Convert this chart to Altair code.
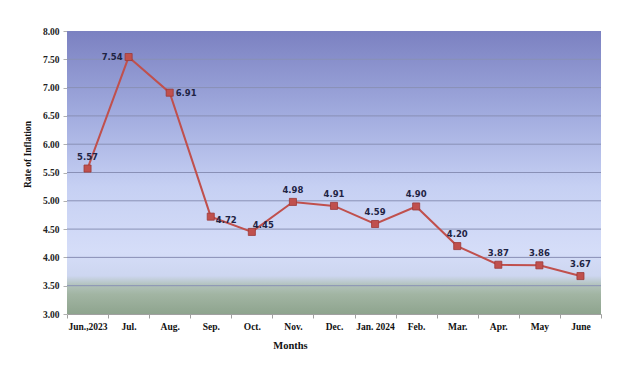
import altair as alt
import pandas as pd

months = ["Jun.,2023", "Jul.", "Aug.", "Sep.", "Oct.", "Nov.", "Dec.",
          "Jan. 2024", "Feb.", "Mar.", "Apr.", "May", "June"]
rates = [5.57, 7.54, 6.91, 4.72, 4.45, 4.98, 4.91, 4.59, 4.90, 4.20, 3.87, 3.86, 3.67]
y_ticks = [3.0, 3.5, 4.0, 4.5, 5.0, 5.5, 6.0, 6.5, 7.0, 7.5, 8.0]

df = pd.DataFrame({"month": months, "rate": rates})
df["label"] = [f"{v:.2f}" for v in rates]
grid_df = pd.DataFrame({"v": y_ticks[1:-1]})

W, H = 534, 283

x_enc = alt.X("month:N", sort=months,
              scale=alt.Scale(domain=months, paddingInner=0, paddingOuter=0),
              axis=alt.Axis(title="Months", labelAngle=0, tickBand="extent",
                            labelFont="Liberation Serif", labelFontWeight="bold",
                            labelFontSize=9.5, labelColor="#111", labelPadding=3,
                            labelOverlap=False,
                            tickSize=4, tickColor="#a0a0a0", domainColor="#a0a0a0",
                            titleFont="Liberation Serif", titleFontWeight="bold",
                            titleFontSize=10.5, titleColor="#111",
                            titleX=223, titleY=31, titleBaseline="middle",
                            grid=False))
y_scale = alt.Scale(domain=[3, 8], nice=False, zero=False)
y_axis = alt.Axis(title="Rate of Inflation", values=y_ticks, format=".2f",
                  labelFont="Liberation Serif", labelFontWeight="bold",
                  labelFontSize=9.5, labelColor="#222", labelPadding=4,
                  labelOverlap=False, labelFlush=False,
                  tickSize=4, tickColor="#b0b0b0", domainColor="#c0c0c0",
                  titleFont="Liberation Serif", titleFontWeight="bold",
                  titleFontSize=9.5, titleColor="#111",
                  titleX=-40, titleY=123, titleAngle=270,
                  titleBaseline="middle", grid=False)
y_enc = alt.Y("rate:Q", scale=y_scale, axis=y_axis)

gradient = alt.Gradient(
    gradient="linear", x1=0, y1=0, x2=0, y2=1,
    stops=[
        alt.GradientStop(offset=0.0, color="#7b81c1"),
        alt.GradientStop(offset=0.3, color="#a2acdf"),
        alt.GradientStop(offset=0.55, color="#c6d0f3"),
        alt.GradientStop(offset=0.78, color="#d5ddf8"),
        alt.GradientStop(offset=0.865, color="#cdd6f0"),
        alt.GradientStop(offset=0.9, color="#b0c1b8"),
        alt.GradientStop(offset=0.93, color="#a2b5a3"),
        alt.GradientStop(offset=1.0, color="#8ea48e"),
    ])

bg = alt.Chart(df).mark_rect(fill=gradient).encode(
    x=alt.value(0), x2=alt.value(W), y=alt.value(0), y2=alt.value(H))

grid = alt.Chart(grid_df).mark_rule(color="#8990b6", strokeWidth=1).encode(
    y=alt.Y("v:Q", scale=y_scale, axis=y_axis))

line = alt.Chart(df).mark_line(color="#c0504d", strokeWidth=2).encode(x=x_enc, y=y_enc)
pts = alt.Chart(df).mark_point(shape="square", filled=True, size=50,
                               color="#c0504d", stroke="#9c3a38",
                               strokeWidth=0.8, opacity=1).encode(x=x_enc, y=y_enc)

text_style = dict(font="DejaVu Sans", fontWeight="bold", fontSize=8.5, color="#1f2444")

def labels(sel, **kw):
    return alt.Chart(df).transform_filter(
        alt.FieldOneOfPredicate(field="month", oneOf=sel)
    ).mark_text(**text_style, **kw).encode(x=x_enc, y=y_enc, text="label:N")

above = [m for m in months if m not in ("Jul.", "Aug.", "Sep.", "Oct.")]
t_above = labels(above, dy=-12)
t_left = labels(["Jul."], align="right", dx=-6, dy=0)
t_right = labels(["Aug."], align="left", dx=6, dy=0)
t_rlow = labels(["Sep."], align="left", dx=5, dy=3)
t_rup = labels(["Oct."], align="left", dx=1, dy=-7)

chart = alt.layer(bg, grid, line, pts, t_above, t_left, t_right, t_rlow, t_rup).properties(
    width=W, height=H,
    autosize=alt.AutoSizeParams(type="none"),
    padding={"left": 59, "top": 23, "right": 10, "bottom": 52},
).configure_view(stroke=None)

chart.save("out.html", embed_options={"renderer": "svg", "actions": False})
